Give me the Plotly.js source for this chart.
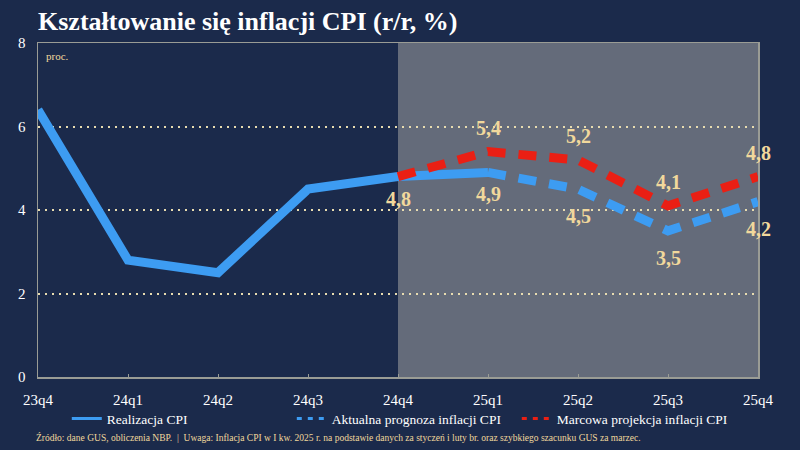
<!DOCTYPE html>
<html><head><meta charset="utf-8">
<script src="https://cdn.plot.ly/plotly-3.0.1.min.js"></script>
<style>html,body{margin:0;padding:0;background:#1b2a4b;}</style>
</head><body>
<div id="chart" style="width:800px;height:450px;"></div>
<script>
var categories = ['23q4','24q1','24q2','24q3','24q4','25q1','25q2','25q3','25q4'];
var realX = ['23q4','24q1','24q2','24q3','24q4','25q1'];
var realY = [6.4, 2.8, 2.5, 4.5, 4.8, 4.9];
var prognozaX = ['25q1','25q2','25q3','25q4'];
var prognozaY = [4.9, 4.5, 3.5, 4.2];
var projekcjaX = ['24q4','25q1','25q2','25q3','25q4'];
var projekcjaY = [4.8, 5.4, 5.2, 4.1, 4.8];
var yTicks = [0, 2, 4, 6, 8];
var seriesNames = ['Realizacja CPI', 'Aktualna prognoza inflacji CPI', 'Marcowa projekcja inflacji CPI'];

var BG = '#1b2a4b', GREY = '#646b7a', BEIGE = '#f1d89c', BLUE = '#3d9cf2', RED = '#ea1f14';
var SERIF = 'Liberation Serif, Times New Roman, serif';
var DASH = '18px,13px';

var traces = [
  {x: realX, y: realY, type: 'scatter', mode: 'lines', name: seriesNames[0], showlegend: false, legendgroup: 'a',
   line: {color: BLUE, width: 9}},
  {x: prognozaX, y: prognozaY, type: 'scatter', mode: 'lines', name: seriesNames[1], showlegend: false, legendgroup: 'b',
   line: {color: BLUE, width: 9, dash: DASH}},
  {x: projekcjaX, y: projekcjaY, type: 'scatter', mode: 'lines', name: seriesNames[2], showlegend: false, legendgroup: 'c',
   line: {color: RED, width: 9, dash: DASH}},
  {x: [null], y: [null], type: 'scatter', mode: 'lines', name: seriesNames[0], legendgroup: 'a',
   line: {color: BLUE, width: 3}},
  {x: [null], y: [null], type: 'scatter', mode: 'lines', name: seriesNames[1], legendgroup: 'b',
   line: {color: BLUE, width: 3, dash: '5px,6px'}},
  {x: [null], y: [null], type: 'scatter', mode: 'lines', name: seriesNames[2], legendgroup: 'c',
   line: {color: RED, width: 3, dash: '5px,6px'}}
];

function fmt(v){ return v.toFixed(1).replace('.', ','); }
var LBL = {family: SERIF, size: 20, color: BEIGE, weight: 'bold'};
var annotations = [];
[['24q4',4.8],['25q1',4.9]].forEach(function(p){
  annotations.push({x: p[0], y: p[1], xref:'x', yref:'y', text: fmt(p[1]), showarrow:false, yshift:-22, font: LBL});
});
prognozaX.forEach(function(c,i){ if(i===0) return;
  annotations.push({x: c, y: prognozaY[i], xref:'x', yref:'y', text: fmt(prognozaY[i]), showarrow:false, yshift:-27, font: LBL});
});
projekcjaX.forEach(function(c,i){ if(i===0) return;
  annotations.push({x: c, y: projekcjaY[i], xref:'x', yref:'y', text: fmt(projekcjaY[i]), showarrow:false, yshift:24, font: LBL});
});
annotations.push({xref:'paper', yref:'paper', x:0.008, y:0.985, xanchor:'left', yanchor:'top', text:'proc.', showarrow:false,
  font:{family:SERIF, size:11, color:BEIGE}});
annotations.push({xref:'paper', yref:'paper', x:-0.005, y:-0.18, xanchor:'left', yanchor:'middle', showarrow:false,
  text:'Źródło: dane GUS, obliczenia NBP.  |  Uwaga: Inflacja CPI w I kw. 2025 r. na podstawie danych za styczeń i luty br. oraz szybkiego szacunku GUS za marzec.',
  font:{family:SERIF, size:9.5, color:BEIGE}});

var layout = {
  width: 800, height: 450,
  paper_bgcolor: BG, plot_bgcolor: BG,
  margin: {l: 38, r: 42, t: 43, b: 73},
  title: {text: '<b>Kształtowanie się inflacji CPI (r/r, %)</b>', x: 38/800, xanchor: 'left', xref: 'container',
          y: 1 - 21/450, yanchor: 'middle', yref: 'container',
          font: {family: SERIF, size: 26, color: '#ffffff'}},
  xaxis: {type: 'category', categoryarray: categories, range: [0, 8], showgrid: false, zeroline: false,
          showline: true, mirror: true, linecolor: '#9a9c95', linewidth: 1.5,
          ticks: 'inside', ticklen: 3, tickcolor: '#9a9c95',
          tickfont: {family: SERIF, size: 15, color: '#ffffff'}, ticklabelstandoff: 8},
  yaxis: {range: [0, 8], tickvals: yTicks, ticktext: yTicks.map(String), showgrid: true,
          gridcolor: '#e8dcb0', griddash: '2px,5px', gridwidth: 2, zeroline: false,
          showline: true, mirror: true, linecolor: '#9a9c95', linewidth: 1.5,
          tickfont: {family: SERIF, size: 15, color: '#ffffff'}, ticklabelstandoff: 8},
  shapes: [{type: 'rect', xref: 'x', yref: 'paper', x0: 4, x1: 8, y0: 0, y1: 1,
            fillcolor: GREY, line: {width: 0}, layer: 'below'}],
  showlegend: true,
  legend: {orientation: 'h', x: 0.04, y: -0.125, xanchor: 'left', yanchor: 'middle',
           entrywidth: 180, entrywidthmode: 'pixels', bgcolor: 'rgba(0,0,0,0)',
           font: {family: SERIF, size: 13.5, color: '#ffffff'}},
  annotations: annotations
};
Plotly.newPlot('chart', traces, layout, {displayModeBar: false, staticPlot: true});
</script>
</body></html>
